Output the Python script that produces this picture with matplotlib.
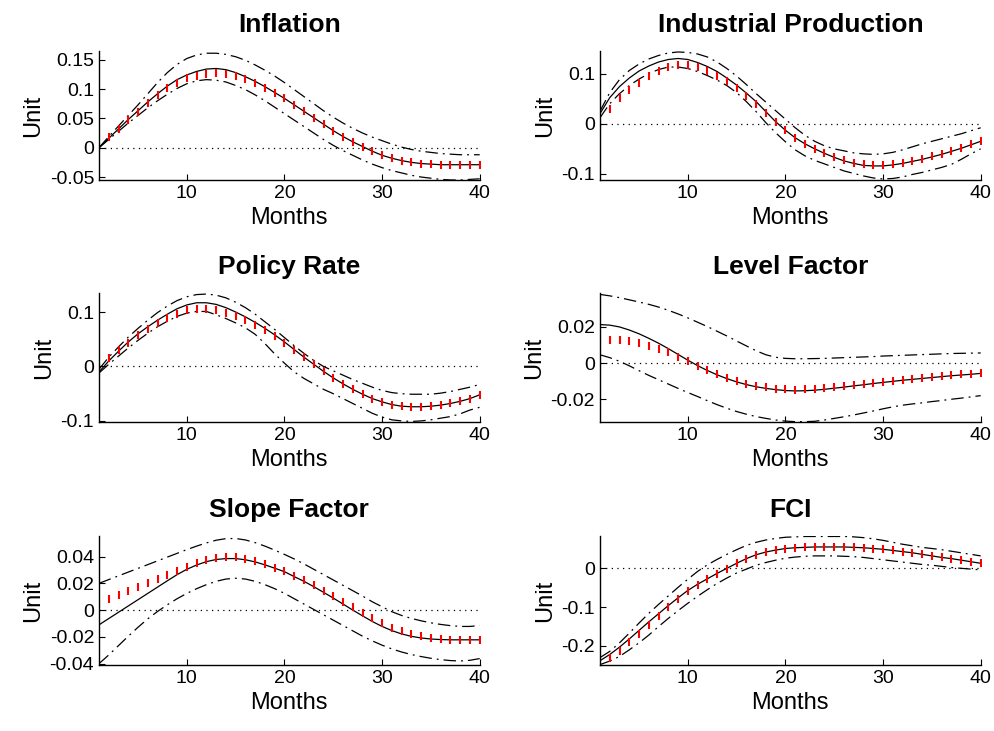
'''
impulse responses, 6 panels, median + bands + alternative model
'''
import numpy as np
import matplotlib
matplotlib.use("Agg")
from matplotlib import pyplot as plt

plt.rcParams['font.family'] = ['Liberation Sans', 'DejaVu Sans']
plt.rcParams['axes.unicode_minus'] = False

months = list(range(1, 41))

titles = ["Inflation", "Industrial Production", "Policy Rate",
          "Level Factor", "Slope Factor", "FCI"]

# inflation
inf_med = [0.000, 0.016, 0.032, 0.048, 0.063, 0.078, 0.092, 0.105, 0.116, 0.124,
           0.130, 0.134, 0.135, 0.133, 0.128, 0.121, 0.113, 0.104, 0.094, 0.084,
           0.073, 0.062, 0.051, 0.040, 0.029, 0.019, 0.010, 0.002, -0.006, -0.013,
           -0.018, -0.022, -0.025, -0.027, -0.028, -0.029, -0.029, -0.029, -0.029, -0.029]
inf_red = [0.000, 0.018, 0.032, 0.047, 0.061, 0.076, 0.090, 0.102, 0.111, 0.118,
           0.123, 0.126, 0.127, 0.126, 0.122, 0.117, 0.110, 0.102, 0.093, 0.084,
           0.073, 0.062, 0.051, 0.040, 0.029, 0.019, 0.010, 0.002, -0.006, -0.013,
           -0.018, -0.022, -0.025, -0.027, -0.028, -0.029, -0.029, -0.029, -0.029, -0.029]
inf_hi = [0.000, 0.019, 0.037, 0.055, 0.073, 0.092, 0.111, 0.128, 0.142, 0.152,
          0.158, 0.161, 0.161, 0.159, 0.155, 0.149, 0.141, 0.132, 0.122, 0.111,
          0.099, 0.087, 0.075, 0.063, 0.052, 0.042, 0.033, 0.025, 0.018, 0.012,
          0.006, 0.001, -0.003, -0.006, -0.008, -0.010, -0.011, -0.012, -0.012, -0.012]
inf_lo = [0.000, 0.014, 0.028, 0.042, 0.055, 0.068, 0.080, 0.091, 0.101, 0.109,
          0.114, 0.116, 0.115, 0.112, 0.106, 0.099, 0.090, 0.080, 0.069, 0.058,
          0.047, 0.036, 0.025, 0.014, 0.004, -0.005, -0.013, -0.021, -0.028, -0.034,
          -0.039, -0.043, -0.047, -0.050, -0.052, -0.054, -0.055, -0.055, -0.054, -0.053]

# industrial production
ip_med = [0.020, 0.052, 0.074, 0.091, 0.105, 0.115, 0.123, 0.128, 0.130, 0.128,
          0.122, 0.114, 0.104, 0.091, 0.077, 0.061, 0.044, 0.024, 0.004, -0.013,
          -0.028, -0.040, -0.050, -0.059, -0.067, -0.074, -0.079, -0.083, -0.084, -0.084,
          -0.082, -0.079, -0.075, -0.071, -0.066, -0.061, -0.055, -0.049, -0.042, -0.035]
ip_red = [0.000, 0.030, 0.052, 0.068, 0.082, 0.095, 0.106, 0.114, 0.118, 0.117,
          0.113, 0.106, 0.096, 0.085, 0.071, 0.056, 0.039, 0.021, 0.003, -0.013,
          -0.028, -0.040, -0.050, -0.059, -0.067, -0.073, -0.078, -0.081, -0.082, -0.082,
          -0.081, -0.078, -0.074, -0.070, -0.065, -0.060, -0.054, -0.048, -0.041, -0.034]
ip_hi = [0.025, 0.062, 0.088, 0.106, 0.119, 0.129, 0.136, 0.141, 0.143, 0.142,
         0.139, 0.133, 0.123, 0.110, 0.095, 0.078, 0.060, 0.043, 0.026, 0.009,
         -0.008, -0.023, -0.035, -0.044, -0.050, -0.054, -0.058, -0.060, -0.061, -0.060,
         -0.057, -0.052, -0.046, -0.040, -0.035, -0.030, -0.025, -0.020, -0.014, -0.008]
ip_lo = [0.012, 0.040, 0.060, 0.076, 0.089, 0.100, 0.108, 0.113, 0.113, 0.110,
         0.104, 0.096, 0.087, 0.076, 0.062, 0.044, 0.024, 0.002, -0.018, -0.036,
         -0.052, -0.064, -0.073, -0.080, -0.087, -0.094, -0.099, -0.104, -0.108, -0.110,
         -0.109, -0.106, -0.101, -0.097, -0.092, -0.087, -0.081, -0.071, -0.060, -0.050]

# policy rate
pr_med = [-0.010, 0.010, 0.028, 0.045, 0.060, 0.073, 0.085, 0.096, 0.106, 0.113,
          0.117, 0.117, 0.114, 0.108, 0.100, 0.091, 0.081, 0.070, 0.058, 0.045,
          0.031, 0.017, 0.004, -0.009, -0.021, -0.032, -0.042, -0.051, -0.059, -0.065,
          -0.070, -0.073, -0.074, -0.074, -0.073, -0.071, -0.068, -0.064, -0.059, -0.052]
pr_red = [0.000, 0.015, 0.030, 0.044, 0.057, 0.069, 0.080, 0.089, 0.097, 0.103,
          0.106, 0.106, 0.104, 0.099, 0.093, 0.086, 0.077, 0.067, 0.056, 0.044,
          0.031, 0.017, 0.004, -0.009, -0.021, -0.032, -0.042, -0.051, -0.059, -0.065,
          -0.070, -0.073, -0.074, -0.074, -0.073, -0.071, -0.068, -0.064, -0.059, -0.052]
pr_hi = [-0.005, 0.017, 0.036, 0.054, 0.070, 0.085, 0.099, 0.111, 0.121, 0.128,
         0.132, 0.133, 0.131, 0.126, 0.118, 0.108, 0.096, 0.082, 0.068, 0.053,
         0.038, 0.024, 0.011, 0.000, -0.008, -0.016, -0.024, -0.031, -0.038, -0.044,
         -0.048, -0.050, -0.051, -0.051, -0.051, -0.049, -0.046, -0.042, -0.038, -0.033]
pr_lo = [-0.012, 0.004, 0.019, 0.034, 0.048, 0.061, 0.073, 0.083, 0.092, 0.098,
         0.101, 0.101, 0.095, 0.088, 0.080, 0.071, 0.059, 0.042, 0.023, 0.006,
         -0.010, -0.022, -0.032, -0.042, -0.050, -0.059, -0.068, -0.077, -0.086, -0.093,
         -0.098, -0.100, -0.101, -0.100, -0.098, -0.095, -0.092, -0.087, -0.080, -0.075]

# level factor
lv_med = [0.0213, 0.0210, 0.0200, 0.0183, 0.0162, 0.0137, 0.0110, 0.0080, 0.0048, 0.0016,
          -0.0014, -0.0041, -0.0065, -0.0086, -0.0104, -0.0119, -0.0131, -0.0140, -0.0147, -0.0152,
          -0.0154, -0.0153, -0.0150, -0.0145, -0.0139, -0.0133, -0.0126, -0.0120, -0.0113, -0.0107,
          -0.0101, -0.0095, -0.0090, -0.0085, -0.0080, -0.0075, -0.0070, -0.0066, -0.0062, -0.0057]
lv_red = [0.0130, 0.0130, 0.0126, 0.0120, 0.0110, 0.0096, 0.0080, 0.0060, 0.0036, 0.0010,
          -0.0015, -0.0040, -0.0063, -0.0083, -0.0100, -0.0114, -0.0126, -0.0135, -0.0141, -0.0145,
          -0.0147, -0.0146, -0.0144, -0.0140, -0.0135, -0.0129, -0.0123, -0.0117, -0.0110, -0.0104,
          -0.0098, -0.0092, -0.0087, -0.0082, -0.0077, -0.0072, -0.0067, -0.0063, -0.0059, -0.0055]
lv_hi = [0.0380, 0.0372, 0.0362, 0.0350, 0.0338, 0.0325, 0.0310, 0.0292, 0.0272, 0.0250,
         0.0226, 0.0202, 0.0176, 0.0150, 0.0122, 0.0095, 0.0068, 0.0046, 0.0032, 0.0026,
         0.0024, 0.0024, 0.0025, 0.0026, 0.0028, 0.0030, 0.0032, 0.0034, 0.0036, 0.0039,
         0.0041, 0.0043, 0.0045, 0.0047, 0.0049, 0.0051, 0.0053, 0.0054, 0.0055, 0.0056]
lv_lo = [0.0046, 0.0030, 0.0010, -0.0015, -0.0042, -0.0068, -0.0092, -0.0116, -0.0140, -0.0163,
         -0.0185, -0.0208, -0.0230, -0.0250, -0.0268, -0.0283, -0.0296, -0.0306, -0.0315, -0.0321,
         -0.0324, -0.0324, -0.0322, -0.0315, -0.0306, -0.0297, -0.0287, -0.0276, -0.0265, -0.0253,
         -0.0242, -0.0233, -0.0226, -0.0220, -0.0213, -0.0207, -0.0200, -0.0194, -0.0187, -0.0180]

# slope factor
sl_med = [-0.0110, -0.0063, -0.0016, 0.0031, 0.0078, 0.0125, 0.0172, 0.0219, 0.0265, 0.0305,
          0.0337, 0.0362, 0.0378, 0.0385, 0.0385, 0.0376, 0.0360, 0.0338, 0.0313, 0.0287,
          0.0250, 0.0215, 0.0175, 0.0133, 0.0090, 0.0045, 0.0000, -0.0043, -0.0085, -0.0122,
          -0.0153, -0.0178, -0.0196, -0.0208, -0.0216, -0.0220, -0.0222, -0.0222, -0.0222, -0.0222]
sl_red = [0.0050, 0.0082, 0.0114, 0.0145, 0.0175, 0.0205, 0.0235, 0.0265, 0.0295, 0.0325,
          0.0352, 0.0373, 0.0388, 0.0394, 0.0393, 0.0384, 0.0366, 0.0344, 0.0318, 0.0292,
          0.0258, 0.0222, 0.0184, 0.0143, 0.0102, 0.0060, 0.0020, -0.0020, -0.0060, -0.0097,
          -0.0130, -0.0158, -0.0180, -0.0197, -0.0210, -0.0218, -0.0222, -0.0224, -0.0224, -0.0224]
sl_hi = [0.0200, 0.0228, 0.0256, 0.0284, 0.0312, 0.0340, 0.0368, 0.0396, 0.0424, 0.0452,
         0.0478, 0.0502, 0.0522, 0.0534, 0.0535, 0.0524, 0.0504, 0.0478, 0.0448, 0.0416,
         0.0382, 0.0345, 0.0305, 0.0265, 0.0225, 0.0185, 0.0145, 0.0105, 0.0062, 0.0025,
         -0.0012, -0.0040, -0.0062, -0.0080, -0.0095, -0.0107, -0.0116, -0.0122, -0.0122, -0.0115]
sl_lo = [-0.0400, -0.0335, -0.0265, -0.0195, -0.0128, -0.0065, -0.0010, 0.0040, 0.0085, 0.0125,
         0.0160, 0.0190, 0.0215, 0.0232, 0.0238, 0.0232, 0.0215, 0.0190, 0.0160, 0.0125,
         0.0085, 0.0045, 0.0005, -0.0035, -0.0075, -0.0115, -0.0155, -0.0195, -0.0230, -0.0262,
         -0.0290, -0.0313, -0.0332, -0.0347, -0.0360, -0.0370, -0.0377, -0.0380, -0.0375, -0.0362]

# financial conditions index
fci_med = [-0.238, -0.222, -0.203, -0.182, -0.160, -0.138, -0.117, -0.096, -0.076, -0.057,
           -0.041, -0.027, -0.013, 0.000, 0.013, 0.025, 0.035, 0.042, 0.047, 0.051,
           0.053, 0.054, 0.055, 0.055, 0.055, 0.055, 0.054, 0.053, 0.051, 0.049,
           0.046, 0.043, 0.040, 0.036, 0.032, 0.028, 0.025, 0.021, 0.017, 0.013]
fci_red = [-0.243, -0.230, -0.213, -0.191, -0.168, -0.145, -0.122, -0.100, -0.079, -0.058,
           -0.042, -0.028, -0.014, -0.001, 0.013, 0.025, 0.035, 0.042, 0.047, 0.051,
           0.053, 0.054, 0.055, 0.055, 0.055, 0.055, 0.054, 0.053, 0.051, 0.049,
           0.046, 0.043, 0.040, 0.036, 0.032, 0.028, 0.025, 0.021, 0.017, 0.013]
fci_hi = [-0.230, -0.214, -0.192, -0.167, -0.141, -0.116, -0.093, -0.071, -0.049, -0.028,
          -0.008, 0.009, 0.023, 0.036, 0.048, 0.059, 0.067, 0.073, 0.077, 0.080,
          0.081, 0.082, 0.082, 0.082, 0.082, 0.082, 0.081, 0.079, 0.076, 0.072,
          0.067, 0.062, 0.058, 0.054, 0.051, 0.048, 0.044, 0.040, 0.036, 0.032]
fci_lo = [-0.248, -0.239, -0.227, -0.210, -0.192, -0.172, -0.150, -0.129, -0.109, -0.090,
          -0.072, -0.055, -0.039, -0.025, -0.012, -0.002, 0.008, 0.015, 0.021, 0.026,
          0.029, 0.031, 0.032, 0.032, 0.032, 0.031, 0.030, 0.028, 0.025, 0.022,
          0.019, 0.016, 0.013, 0.010, 0.008, 0.005, 0.002, 0.000, -0.002, -0.004]

yticks = [[-0.05, 0, 0.05, 0.1, 0.15], [-0.1, 0, 0.1], [-0.1, 0, 0.1],
          [-0.02, 0, 0.02], [-0.04, -0.02, 0, 0.02, 0.04], [-0.2, -0.1, 0]]
ylims = [(-0.055, 0.164), (-0.112, 0.144), (-0.102, 0.134),
         (-0.0326, 0.0385), (-0.041, 0.055), (-0.249, 0.082)]


def draw_panel(ax, title, med, red, hi, lo, ticks, lim):
    """ one impulse response panel in matlab look """
    ax.axhline(0, color='k', lw=0.9, ls=(0, (1, 3.5)))
    ax.plot(months, hi, color='k', lw=0.9, ls=(0, (10, 4, 1.5, 4)))
    ax.plot(months, lo, color='k', lw=0.9, ls=(0, (10, 4, 1.5, 4)))
    ax.plot(months, med, color='k', lw=0.9)
    ax.plot(months, red, color='red', ls='none', marker='|', ms=5.5, mew=1.5)

    ax.set_xlim(1, 40)
    ax.set_ylim(*lim)
    ax.set_xticks([10, 20, 30, 40])
    ax.set_yticks(ticks)
    ax.set_yticklabels(['%g' % t for t in ticks])
    ax.tick_params(direction='in', length=4, labelsize=14, width=0.8)
    for side in ['top', 'right']:
        ax.spines[side].set_visible(False)
    for side in ['left', 'bottom']:
        ax.spines[side].set_linewidth(1.0)

    ax.set_title(title, fontsize=19, fontweight='bold', pad=14)
    ax.set_xlabel("Months", fontsize=17, labelpad=4)
    ax.set_ylabel("Unit", fontsize=17, labelpad=4)


fig = plt.figure(figsize=(9.94, 7.31), dpi=100)

lefts = [0.0996, 0.6036]
bottoms = [0.7538, 0.4227, 0.0903]
series = [(inf_med, inf_red, inf_hi, inf_lo), (ip_med, ip_red, ip_hi, ip_lo),
          (pr_med, pr_red, pr_hi, pr_lo), (lv_med, lv_red, lv_hi, lv_lo),
          (sl_med, sl_red, sl_hi, sl_lo), (fci_med, fci_red, fci_hi, fci_lo)]

for i in range(6):
    ax = fig.add_axes([lefts[i % 2], bottoms[i // 2], 0.383, 0.1758])
    med, red, hi, lo = series[i]
    draw_panel(ax, titles[i], med, red, hi, lo, yticks[i], ylims[i])

fig.savefig("out.png", dpi=100)
